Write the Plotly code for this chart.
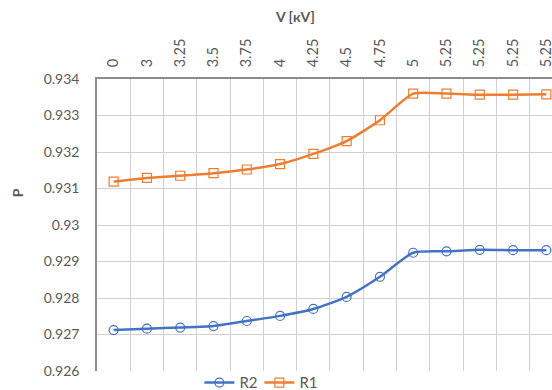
import numpy as np
import plotly.graph_objects as go

# Category labels along the top axis (voltage steps)
v_labels = ["0", "3", "3.25", "3.5", "3.75", "4", "4.25", "4.5", "4.75",
            "5", "5.25", "5.25", "5.25", "5.25"]

# Series values
r2 = [0.92712, 0.92716, 0.92719, 0.92723, 0.92737, 0.92751, 0.92770,
      0.92803, 0.92858, 0.92924, 0.92928, 0.92932, 0.92931, 0.92931]
r1 = [0.93119, 0.93129, 0.93135, 0.93142, 0.93152, 0.93167, 0.93195,
      0.93230, 0.93287, 0.93360, 0.93360, 0.93357, 0.93357, 0.93358]

# Y-axis ticks
y_ticks = [0.926, 0.927, 0.928, 0.929, 0.930, 0.931, 0.932, 0.933, 0.934]
y_ticktext = ["0.926", "0.927", "0.928", "0.929", "0.93", "0.931",
              "0.932", "0.933", "0.934"]

x = np.arange(len(v_labels))

FONT = "Lato"
TXT = "#595959"
GRID = "#d0d0d0"
AXIS = "#8c8c8c"

fig = go.Figure()
fig.add_trace(go.Scatter(
    x=x, y=r2, name="R2", mode="lines+markers",
    line=dict(color="#4472C4", width=2.5, shape="spline", smoothing=0.6),
    marker=dict(symbol="circle-open", size=9, color="#4472C4",
                line=dict(width=1.2, color="#4472C4")),
))
fig.add_trace(go.Scatter(
    x=x, y=r1, name="R1", mode="lines+markers",
    line=dict(color="#ED7D31", width=2.5, shape="spline", smoothing=0.6),
    marker=dict(symbol="square-open", size=9, color="#ED7D31",
                line=dict(width=1.2, color="#ED7D31")),
))

fig.update_layout(
    width=552, height=390,
    margin=dict(l=97, r=0, t=79, b=19, pad=0, autoexpand=False),
    paper_bgcolor="white", plot_bgcolor="white",
    font=dict(family=FONT, size=14, color=TXT),
    showlegend=True,
    legend=dict(orientation="h", xref="paper", x=0.225, xanchor="left",
                yref="paper", y=0.016, yanchor="top",
                font=dict(family=FONT, size=15, color=TXT),
                itemwidth=30, entrywidth=15, tracegroupgap=0,
                bgcolor="rgba(0,0,0,0)"),
    xaxis=dict(
        side="top", range=[-0.5, 13.17],
        tickmode="array", tickvals=list(x), ticktext=v_labels,
        tickangle=-90, ticks="", showgrid=False, zeroline=False,
        showline=True, linecolor=AXIS, linewidth=1.5, mirror=False,
        tickfont=dict(family=FONT, size=14.5, color=TXT),
        ticklabelstandoff=7, ticklabeloverflow="allow",
        minor=dict(tickmode="array", tickvals=list(x[:-1] + 0.5),
                   showgrid=True, gridcolor=GRID, gridwidth=1, ticks=""),
    ),
    yaxis=dict(
        range=[0.926, 0.934], tickmode="array", tickvals=y_ticks,
        ticktext=y_ticktext, ticks="", showgrid=True, gridcolor=GRID,
        gridwidth=1, zeroline=False, showline=True, linecolor=AXIS,
        linewidth=1.5, tickfont=dict(family=FONT, size=14, color=TXT),
        ticklabelstandoff=13,
    ),
    annotations=[
        dict(text="<b>V [кV]</b>", xref="paper", yref="paper",
             x=0.4355, y=1.215, xanchor="center", yanchor="middle",
             showarrow=False, font=dict(family=FONT, size=14, color=TXT)),
        dict(text="<b>P</b>", xref="paper", yref="paper",
             x=-0.173, y=0.61, xanchor="center", yanchor="middle",
             textangle=-90, showarrow=False,
             font=dict(family=FONT, size=14, color=TXT)),
    ],
)

fig.write_html("out.html")
